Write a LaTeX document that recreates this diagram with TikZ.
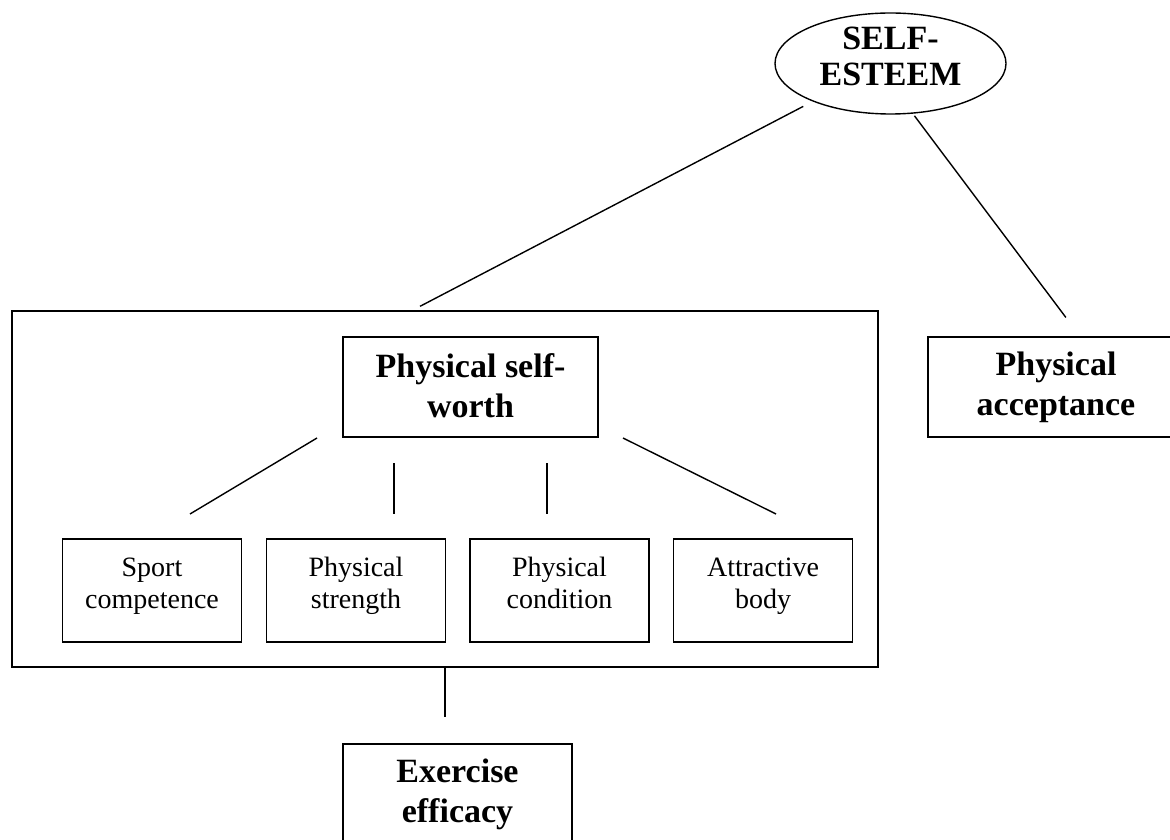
\documentclass[tikz,border=0pt]{standalone}
\usepackage{fontspec}
\setmainfont{Liberation Serif}
\usetikzlibrary{shapes.geometric}

\tikzset{
  lines/.style 2 args={execute at begin node={\rule{0pt}{#1}}, execute at end node={\rule[-#2]{0pt}{#2}}},
  esteemnode/.style={ellipse, draw, line width=0.7pt, inner sep=0pt,
    minimum width=115.5pt, minimum height=50.5pt},
  esteemtext/.style={align=center, inner sep=0pt, yshift=3.6pt, font=\fontsize{17}{18}\selectfont\bfseries},
  bigbox/.style={draw, line width=0.7pt, inner sep=0pt, align=center, lines={14pt}{1pt},
    minimum width=127.5pt, minimum height=50pt, font=\fontsize{17}{20}\selectfont\bfseries},
  smallbox/.style={draw, line width=0.7pt, inner sep=0pt, align=center, lines={11.2pt}{7.7pt},
    minimum width=89.5pt, minimum height=51.5pt, font=\fontsize{14}{16}\selectfont},
  link/.style={line width=0.7pt}
}

\begin{document}
\begin{tikzpicture}[x=0.5pt, y=-0.5pt]
  \useasboundingbox (0,0) rectangle (1170,839);

  % top of the hierarchy
  \node[esteemnode, label={[esteemtext]center:{SELF-\\ESTEEM}}] (esteem) at (890.5,63.5) {};
  \node[draw, line width=0.7pt, minimum width=433pt, minimum height=178pt, inner sep=0pt] (group) at (445,489) {};
  \node[bigbox] (worth) at (470.5,387) {Physical self-\\worth};
  \node[bigbox, minimum width=128pt] (accept) at (1056,387) {Physical\\acceptance};

  % subdomains
  \node[smallbox] (sport) at (152,590.5) {Sport\\competence};
  \node[smallbox] (strength) at (356,590.5) {Physical\\strength};
  \node[smallbox] (condition) at (559.5,590.5) {Physical\\condition};
  \node[smallbox] (body) at (763,590.5) {Attractive\\body};

  \node[bigbox, minimum width=114.5pt] (exercise) at (457.5,794) {Exercise\\efficacy};

  % free ends of the short links
  \coordinate (worth-a) at (317,438);
  \coordinate (sport-a) at (190,514);
  \coordinate (worth-b) at (394,463);
  \coordinate (strength-a) at (394,514);
  \coordinate (worth-c) at (547,463);
  \coordinate (condition-a) at (547,514);
  \coordinate (worth-d) at (623,438);
  \coordinate (body-a) at (776,514);

  \draw[link, shorten <=5.3pt, shorten >=4.3pt] (esteem.206) -- ([xshift=-16.3pt]group.north);
  \draw[link, shorten <=1.3pt, shorten >=11.8pt] (esteem.294) -- ([xshift=12pt]accept.north);
  \draw[link] (worth-a) -- (sport-a);
  \draw[link] (worth-b) -- (strength-a);
  \draw[link] (worth-c) -- (condition-a);
  \draw[link] (worth-d) -- (body-a);
  \draw[link, shorten >=13pt] (group.south) -- (group.south |- exercise.north);
\end{tikzpicture}
\end{document}
